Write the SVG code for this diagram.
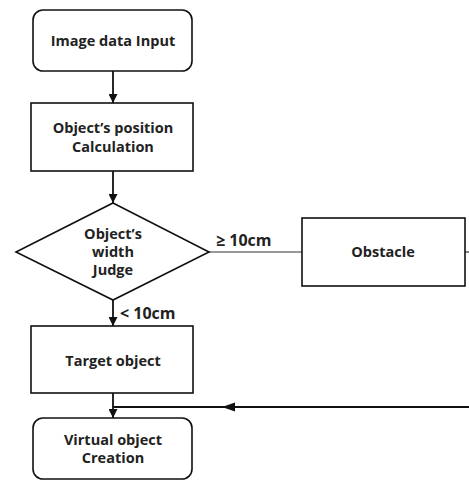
<svg xmlns="http://www.w3.org/2000/svg" width="469" height="480" viewBox="0 0 469 480">
<style>
.n{fill:#fff;stroke:#111;stroke-width:1.6}
.t{font-family:"Open Sans","Noto Sans",sans-serif;font-weight:bold;font-size:14.5px;fill:#222;text-anchor:middle}
.l{font-family:"Open Sans","Noto Sans",sans-serif;font-weight:bold;font-size:16px;fill:#222}
.c{fill:none;stroke:#111;stroke-width:1.8}
.c2{fill:none;stroke:#333;stroke-width:1.2}
</style>
<defs>
<marker id="a" viewBox="0 0 10 10" refX="10" refY="5" markerWidth="5" markerHeight="5" orient="auto" markerUnits="strokeWidth">
<path d="M0,0L10,5L0,10z" fill="#111"/>
</marker>
</defs>
<g id="connectors">
<line class="c" x1="113" y1="71" x2="113" y2="103" marker-end="url(#a)"/>
<line class="c" x1="113" y1="171" x2="113" y2="203" marker-end="url(#a)"/>
<line class="c" x1="113" y1="300" x2="113" y2="326" marker-end="url(#a)"/>
<line class="c2" x1="209" y1="252" x2="302" y2="252"/>
<line class="c2" x1="465" y1="252" x2="469" y2="252"/>
<line class="c" x1="113" y1="393" x2="113" y2="418" marker-end="url(#a)"/>
<line class="c" x1="469" y1="407" x2="113" y2="407"/>
<path d="M222,407L235,402.5L235,411.5z" fill="#111"/>
<text class="l" x="120" y="319">&lt; 10cm</text>
<text class="l" x="216" y="246">≥ 10cm</text>
</g>
<g id="n1">
<rect class="n" x="33" y="10" width="159" height="61" rx="10"/>
<text class="t" x="113" y="46">Image data Input</text>
</g>
<g id="n2">
<rect class="n" x="31" y="103" width="162" height="68"/>
<text class="t" x="113" y="133">Object’s position</text>
<text class="t" x="113" y="152">Calculation</text>
</g>
<g id="n3">
<polygon class="n" points="113,203 209,252 113,300 16,252"/>
<text class="t" x="113" y="239">Object’s</text>
<text class="t" x="113" y="257">width</text>
<text class="t" x="113" y="275">Judge</text>
</g>
<g id="n4">
<rect class="n" x="302" y="218" width="163" height="68"/>
<text class="t" x="383" y="257">Obstacle</text>
</g>
<g id="n5">
<rect class="n" x="31" y="326" width="162" height="67"/>
<text class="t" x="113" y="366">Target object</text>
</g>
<g id="n6">
<rect class="n" x="33" y="418" width="159" height="61" rx="10"/>
<text class="t" x="113" y="445">Virtual object</text>
<text class="t" x="113" y="463">Creation</text>
</g>
</svg>
